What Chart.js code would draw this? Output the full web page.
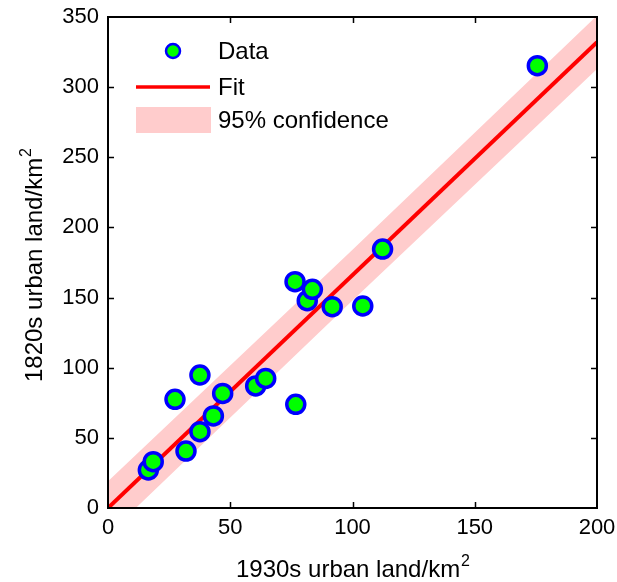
<!DOCTYPE html>
<html>
<head>
<meta charset="utf-8">
<script src="https://cdn.jsdelivr.net/npm/chart.js@4/dist/chart.umd.min.js"></script>
<style>
  html, body { margin: 0; padding: 0; background: #fff; }
  #wrap { width: 617px; height: 582px; position: relative; }
</style>
</head>
<body>
<div id="wrap"><canvas id="c"></canvas></div>
<script>
// ---- data ----
const urban1930s = [16.5, 18.5, 31.9, 27.4, 37.6, 37.6, 43.1, 46.9, 60.4, 64.5, 76.8, 76.5, 81.5, 83.6, 91.7, 104.2, 112.3, 175.6];
const urban1820s = [27.1, 33.0, 40.6, 77.5, 94.8, 54.4, 65.6, 81.7, 87.0, 92.4, 73.9, 161.3, 147.8, 155.9, 143.5, 144.0, 184.6, 315.3];
const fitX = [0, 200];
const fitY = [0, 332];
const bandX = [0, 100, 200];
const bandUpper = [19, 184, 351];
const bandLower = [-19, 148, 313];
const xTicks = [0, 50, 100, 150, 200];
const yTicks = [0, 50, 100, 150, 200, 250, 300, 350];
const legendLabels = ['Data', 'Fit', '95% confidence'];
const xTitle = '1930s urban land/km';
const yTitle = '1820s urban land/km';
const titleSup = '2';

const FONT = '"Liberation Sans", Arial, sans-serif';
const pts = (xs, ys) => xs.map((x, i) => ({ x: x, y: ys[i] }));

const framePlugin = {
  id: 'frame',
  afterDraw(chart) {
    const ctx = chart.ctx;
    const a = chart.chartArea;
    const xs = chart.scales.x, ys = chart.scales.y;
    ctx.save();
    ctx.strokeStyle = '#000';
    ctx.lineWidth = 2;
    ctx.strokeRect(a.left, a.top, a.right - a.left, a.bottom - a.top);
    const tl = 6;
    ctx.lineWidth = 1.5;
    ctx.beginPath();
    xTicks.slice(1, -1).forEach(v => {
      const px = Math.round(xs.getPixelForValue(v)) + 0.5;
      ctx.moveTo(px, a.bottom); ctx.lineTo(px, a.bottom - tl);
      ctx.moveTo(px, a.top); ctx.lineTo(px, a.top + tl);
    });
    yTicks.slice(1, -1).forEach(v => {
      const py = Math.round(ys.getPixelForValue(v)) + 0.5;
      ctx.moveTo(a.left, py); ctx.lineTo(a.left + tl, py);
      ctx.moveTo(a.right, py); ctx.lineTo(a.right - tl, py);
    });
    ctx.stroke();

    // axis titles with superscript
    ctx.fillStyle = '#000';
    ctx.textBaseline = 'alphabetic';
    ctx.textAlign = 'left';
    const mainFont = '24px ' + FONT, supFont = '16px ' + FONT;
    ctx.font = mainFont;
    const wx = ctx.measureText(xTitle).width;
    ctx.font = supFont;
    const ws = ctx.measureText(titleSup).width;
    const cx = (a.left + a.right) / 2;
    let x0 = cx - (wx + ws) / 2;
    ctx.font = mainFont;
    ctx.fillText(xTitle, x0, 577);
    ctx.font = supFont;
    ctx.fillText(titleSup, x0 + wx + 1, 566);

    ctx.save();
    ctx.translate(42, (a.top + a.bottom) / 2 + 3);
    ctx.rotate(-Math.PI / 2);
    ctx.font = mainFont;
    const wy = ctx.measureText(yTitle).width;
    let y0 = -(wy + ws) / 2;
    ctx.fillText(yTitle, y0, 0);
    ctx.font = supFont;
    ctx.fillText(titleSup, y0 + wy + 1, -11);
    ctx.restore();

    // legend
    ctx.font = '24px ' + FONT;
    ctx.textBaseline = 'middle';
    ctx.textAlign = 'left';
    ctx.beginPath();
    ctx.arc(173, 51, 7, 0, Math.PI * 2);
    ctx.fillStyle = '#00ff00';
    ctx.fill();
    ctx.lineWidth = 2.5;
    ctx.strokeStyle = '#0000ff';
    ctx.stroke();
    ctx.beginPath();
    ctx.moveTo(136, 87); ctx.lineTo(210, 87);
    ctx.lineWidth = 3.5;
    ctx.strokeStyle = '#ff0000';
    ctx.stroke();
    ctx.fillStyle = '#ffcccc';
    ctx.fillRect(136, 107, 75, 26);
    ctx.fillStyle = '#000';
    ctx.fillText(legendLabels[0], 218, 52);
    ctx.fillText(legendLabels[1], 218, 88);
    ctx.fillText(legendLabels[2], 218, 121);
    ctx.restore();
  }
};

new Chart(document.getElementById('c'), {
  type: 'scatter',
  data: {
    datasets: [
      {
        label: legendLabels[0],
        data: pts(urban1930s, urban1820s),
        backgroundColor: '#00ff00',
        borderColor: '#0000ff',
        borderWidth: 3.5,
        pointRadius: 9,
        order: 1
      },
      {
        label: legendLabels[1],
        data: pts(fitX, fitY),
        showLine: true,
        borderColor: '#ff0000',
        borderWidth: 4,
        pointRadius: 0,
        fill: false,
        order: 2
      },
      {
        label: legendLabels[2],
        data: pts(bandX, bandUpper),
        showLine: true,
        borderWidth: 0,
        borderColor: 'rgba(0,0,0,0)',
        backgroundColor: '#ffcccc',
        pointRadius: 0,
        fill: '+1',
        order: 3
      },
      {
        label: 'lower',
        data: pts(bandX, bandLower),
        showLine: true,
        borderWidth: 0,
        borderColor: 'rgba(0,0,0,0)',
        pointRadius: 0,
        fill: false,
        order: 4
      }
    ]
  },
  options: {
    responsive: true,
    maintainAspectRatio: false,
    animation: false,
    layout: { padding: { left: 0, right: 20, top: 17, bottom: 0 } },
    plugins: { legend: { display: false }, tooltip: { enabled: false } },
    scales: {
      x: {
        type: 'linear',
        min: 0, max: 200,
        afterBuildTicks: s => { s.ticks = xTicks.map(v => ({ value: v })); },
        afterFit: s => { s.height = 74; s.paddingLeft = 0; s.paddingRight = 0; },
        grid: { display: false, drawTicks: false },
        border: { display: false },
        ticks: { color: '#000', font: { family: FONT, size: 22 }, padding: 7, maxRotation: 0 }
      },
      y: {
        type: 'linear',
        min: 0, max: 350,
        afterBuildTicks: s => { s.ticks = yTicks.map(v => ({ value: v })); },
        afterFit: s => { s.width = 108; s.paddingTop = 0; s.paddingBottom = 0; },
        grid: { display: false, drawTicks: false },
        border: { display: false },
        ticks: { color: '#000', font: { family: FONT, size: 22 }, padding: 9 }
      }
    }
  },
  plugins: [framePlugin]
});
</script>
</body>
</html>
